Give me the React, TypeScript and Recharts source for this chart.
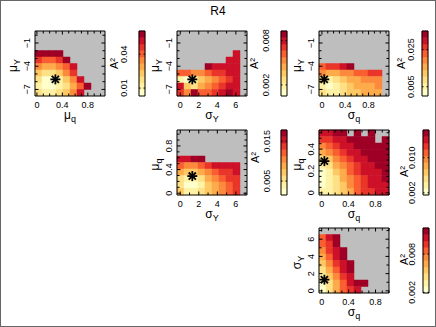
import React from 'react';
import { ScatterChart, Scatter, XAxis, YAxis, ReferenceArea } from 'recharts';

const FONT = '"Liberation Sans", Arial, Helvetica, sans-serif';
const GRAY = '#BEBEBE';
const _ = null;

// colour bands, lightest to darkest
const bandColors = ['#FFFFCC', '#FFF2A4', '#FEE186', '#FEC965', '#FDAB4B', '#FC8A3D', '#F95F30', '#E9352A', '#CD1129', '#9E0026'];

// best fit parameters (the asterisk)
const bestFit = { muq: 0.29, muY: -5.7, sigY: 1.3, sigq: 0.04 };

// axis ranges
const muqRange: [number, number] = [-0.03, 1.07];
const muqRangeShort: [number, number] = [-0.02, 0.575];
const muYRange: [number, number] = [-7.85, 0.55];
const sigYRange: [number, number] = [-0.35, 7.2];
const sigYRangeV: [number, number] = [-0.25, 7.3];
const sigqRangeWide: [number, number] = [-0.05, 1.15];
const sigqRange: [number, number] = [-0.04, 1.0];

// labelled ticks
const muqTicks = [0, 0.4, 0.8];
const muqTicksShort = [0, 0.2, 0.4];
const muYTicks = [-7, -4, -1];
const sigYTicks = [0, 2, 4, 6];
const sigqTicks = [0, 0.4, 0.8];

// colour band of each grid cell, top row first; null / missing = no fit (grey)
const muqVsMuY: (number | null)[][] = [
  [], [], [],
  [9, 9, 9, 9],
  [7, 6, 6, 7, 9],
  [5, 4, 4, 5, 6, 8],
  [3, 2, 2, 3, 5, 7],
  [2, 0, 0, 1, 3, 5, 8],
  [1, 0, 0, 1, 2, 4, 6, 9],
  [2, 1, 1, 2, 3, 5, 8],
];
const sigYVsMuY: (number | null)[][] = [
  [], [], [],
  [_, _, _, _, _, _, _, _, 8],
  [_, _, _, _, _, _, _, 8, 8],
  [_, _, _, _, 9, 8, 8, 8, 8],
  [6, 6, 5, 5, 6, 7, 7, 8, 8],
  [1, 0, 1, 3, 4, 5, 6, 7, 8],
  [8, 3, 2, 4, 5, 6, 7, 8, 8],
  [7, 5, 9, 6, 6, 7, 8, 9, 8],
];
const sigqVsMuY: (number | null)[][] = [
  [], [], [], [], [],
  [6, 7, 7, 8, 9],
  [5, 4, 4, 5, 5, 6, 6, 7, 7],
  [2, 1, 2, 3, 4, 4, 5, 5, 5],
  [1, 0, 1, 2, 3, 4, 4, 4, 5],
  [2, 1, 1, 2, 3, 3, 4, 4, 4],
];
const sigYVsMuq: (number | null)[][] = [
  [], [], [], [],
  [8, 8, 9, 9],
  [6, 5, 5, 6, 7, 8, 8, 8, 8],
  [4, 3, 3, 4, 5, 6, 7, 7, 8],
  [2, 1, 1, 2, 4, 5, 6, 7, 7],
  [2, 0, 0, 1, 3, 4, 5, 6, 7],
  [3, 1, 1, 2, 3, 4, 5, 6, 7],
];
const sigqVsMuq: (number | null)[][] = [
  [8, 8, 9, 9, _, 9, _, 9, _, _],
  [7, 7, 8, 8, 9, 9, 9, 9, _, 9],
  [5, 6, 7, 8, 8, 9, 9, 9, 9, 9],
  [4, 5, 6, 7, 8, 8, 9, 9, 9, 9],
  [2, 3, 5, 6, 7, 8, 8, 9, 9, 9],
  [1, 2, 4, 5, 6, 7, 8, 8, 9, 9],
  [0, 1, 3, 4, 6, 7, 8, 8, 8, 9],
  [0, 1, 2, 4, 5, 6, 7, 8, 8, 9],
  [0, 1, 2, 3, 5, 6, 7, 8, 8, 8],
  [1, 1, 2, 3, 4, 6, 7, 7, 8, 8],
];
const sigqVsSigY: (number | null)[][] = [
  [],
  [6, 8, 9],
  [6, 7, 9],
  [5, 7, 8, 9],
  [4, 6, 8, 9],
  [3, 5, 7, 8, 9],
  [2, 4, 6, 8, 9],
  [1, 3, 5, 7, 8],
  [0, 2, 4, 6, 8, 9, 9],
  [0, 2, 4, 6, 7, 8],
];

// colour bar ranges and labels (A^2)
const cbRanges: [number, number][] = [[0.003, 0.0605], [0.0005, 0.0093], [0, 0.035], [0.0015, 0.0178], [0.0015, 0.0163], [0.0019, 0.0121]];
const cbTicks = [[0.01, 0.04], [0.002, 0.008], [0.005, 0.025], [0.005, 0.015], [0.002, 0.01], [0.002, 0.008]];
const cbLabels = [['0.01', '0.04'], ['0.002', '0.008'], ['0.005', '0.025'], ['0.005', '0.015'], ['0.002', '0.010'], ['0.002', '0.008']];

const PW = 70, PH = 65, AXW = 34, AXH = 30, MT = 4, MR = 4;
const CBAX = 36, CBW = 6, CBM = 14;

const stepTicks = (r: [number, number], step: number) => {
  const out: number[] = [];
  for (let k = Math.ceil(r[0] / step - 1e-9); k * step <= r[1] + 1e-9; k++) out.push(Math.round(k * step * 1000) / 1000);
  return out;
};
const fmt = (v: number) => (v < 0 ? '\u2212' + Math.abs(v) : String(v));

const Asterisk = (props: any) => {
  const { cx, cy } = props;
  if (cx == null || cy == null) return null;
  const r = 5, d = 3.6;
  return (
    <g stroke="#000" strokeWidth={1.8}>
      <line x1={cx - r} y1={cy} x2={cx + r} y2={cy} />
      <line x1={cx} y1={cy - r} x2={cx} y2={cy + r} />
      <line x1={cx - d} y1={cy - d} x2={cx + d} y2={cy + d} />
      <line x1={cx - d} y1={cy + d} x2={cx + d} y2={cy - d} />
    </g>
  );
};
const NoMark = () => <g />;

interface PanelDef {
  left: number; top: number;
  x: [number, number]; y: [number, number];
  levels: (number | null)[][];
  xTicks: number[]; xStep: number;
  yTicks: number[]; yStep: number;
  xName: [string, string]; yName: [string, string];
  star: [number, number];
}

const panels: PanelDef[] = [
  { left: 0, top: 26, x: muqRange, y: muYRange, levels: muqVsMuY, xTicks: muqTicks, xStep: 0.1, yTicks: muYTicks, yStep: 1, xName: ['μ', 'q'], yName: ['μ', 'Y'], star: [bestFit.muq, bestFit.muY] },
  { left: 142, top: 26, x: sigYRange, y: muYRange, levels: sigYVsMuY, xTicks: sigYTicks, xStep: 1, yTicks: muYTicks, yStep: 1, xName: ['σ', 'Y'], yName: ['μ', 'Y'], star: [bestFit.sigY, bestFit.muY] },
  { left: 284, top: 26, x: sigqRangeWide, y: muYRange, levels: sigqVsMuY, xTicks: sigqTicks, xStep: 0.1, yTicks: muYTicks, yStep: 1, xName: ['σ', 'q'], yName: ['μ', 'Y'], star: [bestFit.sigq, bestFit.muY] },
  { left: 142, top: 125, x: sigYRange, y: muqRange, levels: sigYVsMuq, xTicks: sigYTicks, xStep: 1, yTicks: muqTicks, yStep: 0.1, xName: ['σ', 'Y'], yName: ['μ', 'q'], star: [bestFit.sigY, bestFit.muq] },
  { left: 284, top: 125, x: sigqRange, y: muqRangeShort, levels: sigqVsMuq, xTicks: sigqTicks, xStep: 0.1, yTicks: muqTicksShort, yStep: 0.05, xName: ['σ', 'q'], yName: ['μ', 'q'], star: [bestFit.sigq, bestFit.muq] },
  { left: 284, top: 223, x: sigqRange, y: sigYRangeV, levels: sigqVsSigY, xTicks: sigqTicks, xStep: 0.1, yTicks: sigYTicks, yStep: 1, xName: ['σ', 'q'], yName: ['σ', 'Y'], star: [bestFit.sigq, bestFit.sigY] },
];

// colour bar placement: bar left edge, plot top, label gaps
const cbPlaces = [
  { bar: 138, top: 30, gap: 15, aGap: 25, aDy: 0 },
  { bar: 280, top: 30, gap: 14.5, aGap: 27.5, aDy: 0 },
  { bar: 421, top: 30, gap: 10.5, aGap: 21, aDy: 0 },
  { bar: 279.5, top: 129, gap: 14, aGap: 26.5, aDy: -5 },
  { bar: 421.5, top: 129, gap: 10.5, aGap: 19, aDy: 9 },
  { bar: 421.5, top: 227, gap: 10.5, aGap: 19, aDy: -1 },
];

const isMajor = (list: number[], v: number) => list.some((m) => Math.abs(m - v) < 1e-6);

function Heatmap({ p }: { p: PanelDef }) {
  const dx = (p.x[1] - p.x[0]) / 10;
  const dy = (p.y[1] - p.y[0]) / 10;
  const cells: { x1: number; x2: number; y1: number; y2: number; fill: string }[] = [];
  p.levels.forEach((row, i) =>
    row.forEach((lv, c) => {
      if (lv == null) return;
      const r = 9 - i;
      cells.push({ x1: p.x[0] + c * dx, x2: p.x[0] + (c + 1) * dx, y1: p.y[0] + r * dy, y2: p.y[0] + (r + 1) * dy, fill: bandColors[lv] });
    })
  );

  const xTick = (t: any) => {
    const { x, y, payload } = t;
    const major = isMajor(p.xTicks, payload.value);
    const len = major ? 3.5 : 2.5;
    return (
      <g>
        <line x1={x} x2={x} y1={y} y2={y - len} stroke="#000" />
        <line x1={x} x2={x} y1={y - PH} y2={y - PH + len} stroke="#000" />
        {major && (
          <text x={x} y={y + 11.5} textAnchor="middle" fontSize={9} fontFamily={FONT} fill="#000">
            {fmt(payload.value)}
          </text>
        )}
      </g>
    );
  };
  const yTick = (t: any) => {
    const { x, y, payload } = t;
    const major = isMajor(p.yTicks, payload.value);
    const len = major ? 3.5 : 2.5;
    const lx = x - 8;
    return (
      <g>
        <line x1={x} x2={x + len} y1={y} y2={y} stroke="#000" />
        <line x1={x + PW} x2={x + PW - len} y1={y} y2={y} stroke="#000" />
        {major && (
          <text x={lx} y={y} transform={`rotate(-90 ${lx} ${y})`} textAnchor="middle" dominantBaseline="central" fontSize={9} fontFamily={FONT} fill="#000">
            {fmt(payload.value)}
          </text>
        )}
      </g>
    );
  };

  return (
    <div style={{ position: 'absolute', left: p.left, top: p.top }}>
      <ScatterChart width={AXW + PW + MR} height={MT + PH + AXH} margin={{ top: MT, right: MR, bottom: 0, left: 0 }}>
        <ReferenceArea x1={p.x[0]} x2={p.x[1]} y1={p.y[0]} y2={p.y[1]} fill={GRAY} fillOpacity={1} ifOverflow="visible" />
        {cells.map((c, i) => (
          <ReferenceArea key={i} x1={c.x1} x2={c.x2} y1={c.y1} y2={c.y2} fill={c.fill} fillOpacity={1} stroke={c.fill} strokeWidth={0.5} ifOverflow="visible" />
        ))}
        <ReferenceArea x1={p.x[0]} x2={p.x[1]} y1={p.y[0]} y2={p.y[1]} fill="none" stroke="#000" strokeWidth={1} ifOverflow="visible" />
        <Scatter data={[{ x: p.star[0], y: p.star[1] }]} shape={Asterisk} isAnimationActive={false} />
        <XAxis type="number" dataKey="x" domain={p.x} allowDataOverflow ticks={stepTicks(p.x, p.xStep)} interval={0} tick={xTick} tickLine={false} axisLine={false} tickSize={0} tickMargin={0} height={AXH} />
        <YAxis type="number" dataKey="y" domain={p.y} allowDataOverflow ticks={stepTicks(p.y, p.yStep)} interval={0} tick={yTick} tickLine={false} axisLine={false} tickSize={0} tickMargin={0} width={AXW} />
        <text x={AXW + PW / 2} y={MT + PH + 23} textAnchor="middle" fontSize={12} fontFamily={FONT} fill="#000">
          <tspan>{p.xName[0]}</tspan>
          <tspan fontSize={9} dy={3}>{p.xName[1]}</tspan>
        </text>
        <text transform={`translate(${AXW - 22} ${MT + PH / 2 + 2}) rotate(-90)`} x={0} y={4} textAnchor="middle" fontSize={12} fontFamily={FONT} fill="#000">
          <tspan>{p.yName[0]}</tspan>
          <tspan fontSize={9} dy={3}>{p.yName[1]}</tspan>
        </text>
      </ScatterChart>
    </div>
  );
}

function Colorbar({ idx }: { idx: number }) {
  const range = cbRanges[idx];
  const place = cbPlaces[idx];
  const ticks = cbTicks[idx];
  const labels = cbLabels[idx];
  const n = bandColors.length;
  const step = (range[1] - range[0]) / n;

  const tick = (t: any) => {
    const { x, y, payload } = t;
    const k = ticks.findIndex((v) => Math.abs(v - payload.value) < 1e-9);
    const lx = x - place.gap;
    return (
      <g>
        <line x1={x} x2={x + 1.5} y1={y} y2={y} stroke="#000" />
        <line x1={x + CBW} x2={x + CBW - 1.5} y1={y} y2={y} stroke="#000" />
        <text x={lx} y={y} transform={`rotate(-90 ${lx} ${y})`} textAnchor="middle" dominantBaseline="central" fontSize={9} fontFamily={FONT} fill="#000">
          {labels[k]}
        </text>
      </g>
    );
  };

  return (
    <div style={{ position: 'absolute', left: place.bar - CBAX, top: place.top - CBM }}>
      <ScatterChart width={CBAX + CBW + 2} height={CBM + PH + CBM} margin={{ top: CBM, right: 2, bottom: CBM, left: 0 }}>
        {bandColors.map((col, k) => (
          <ReferenceArea key={k} x1={0} x2={1} y1={range[0] + k * step} y2={range[0] + (k + 1) * step} fill={col} fillOpacity={1} stroke={col} strokeWidth={0.5} ifOverflow="visible" />
        ))}
        <ReferenceArea x1={0} x2={1} y1={range[0]} y2={range[1]} fill="none" stroke="#000" strokeWidth={1} ifOverflow="visible" />
        <Scatter data={[{ x: 0.5, y: range[0] }]} shape={NoMark} isAnimationActive={false} />
        <XAxis type="number" dataKey="x" domain={[0, 1]} allowDataOverflow hide />
        <YAxis type="number" dataKey="y" domain={range} allowDataOverflow ticks={ticks} interval={0} tick={tick} tickLine={false} axisLine={false} tickSize={0} tickMargin={0} width={CBAX} />
        <text transform={`translate(${CBAX - place.aGap} ${CBM + PH / 2 + place.aDy}) rotate(-90)`} x={0} y={4} textAnchor="middle" fontSize={11} fontFamily={FONT} fill="#000">
          A²
        </text>
      </ScatterChart>
    </div>
  );
}

export default function App() {
  return (
    <div style={{ position: 'fixed', left: 0, top: 0, width: 436, height: 327, background: '#fff', border: '1px solid #666', boxSizing: 'border-box', overflow: 'hidden' }}>
      <div style={{ position: 'absolute', left: 0, top: 3, width: 434, textAlign: 'center', fontFamily: FONT, fontSize: 12, lineHeight: '14px' }}>R4</div>
      {panels.map((p, i) => (
        <Heatmap key={i} p={p} />
      ))}
      {cbPlaces.map((_c, i) => (
        <Colorbar key={i} idx={i} />
      ))}
    </div>
  );
}
